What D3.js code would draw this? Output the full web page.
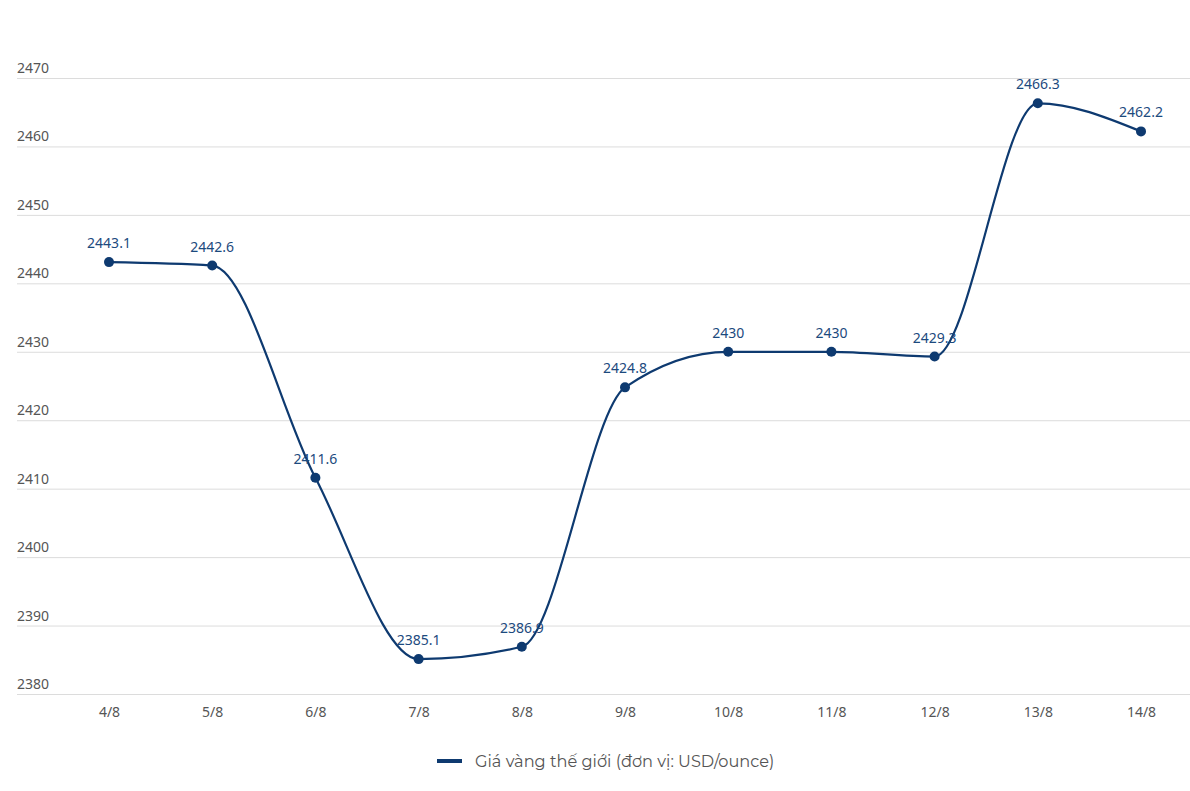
<!DOCTYPE html>
<html><head><meta charset="utf-8">
<script src="https://cdn.jsdelivr.net/npm/d3@7"></script>
<style>body{margin:0;background:#fff}svg{display:block}</style>
</head><body>
<svg id="c" width="1190" height="791"></svg>
<script>
const categories = ["4/8","5/8","6/8","7/8","8/8","9/8","10/8","11/8","12/8","13/8","14/8"];
const values = [2443.1,2442.6,2411.6,2385.1,2386.9,2424.8,2430,2430,2429.3,2466.3,2462.2];
const yTicks = [2380,2390,2400,2410,2420,2430,2440,2450,2460,2470];
const seriesName = "Giá vàng thế giới (đơn vị: USD/ounce)";

const svg = d3.select("#c");
const color = "#0e3a70";
const x = d3.scalePoint().domain(categories).range([109,1141]);
const y = d3.scaleLinear().domain([2380,2470]).range([694,78]);

const g = svg.append("g");
g.selectAll("line.grid").data(yTicks).join("line")
  .attr("x1",17).attr("x2",1190)
  .attr("y1",d=>y(d)+0.5).attr("y2",d=>y(d)+0.5)
  .attr("stroke","#dcdcdc").attr("stroke-width",1);
g.selectAll("text.yl").data(yTicks).join("text")
  .attr("x",17).attr("y",d=>y(d)-5)
  .attr("font-family","'Noto Sans', sans-serif").attr("font-size",14)
  .attr("fill","#555").text(d=>d);

const xa = svg.append("g").attr("transform","translate(0,694)")
  .call(d3.axisBottom(x).tickSize(0).tickPadding(13));
xa.select(".domain").remove();
xa.selectAll("text").attr("font-family","'Noto Sans', sans-serif").attr("font-size",14).attr("fill","#555");

const data = categories.map((c,i)=>({c,v:values[i]}));
const line = d3.line().x(d=>x(d.c)).y(d=>y(d.v)).curve(d3.curveMonotoneX);
svg.append("path").datum(data).attr("d",line)
  .attr("fill","none").attr("stroke",color).attr("stroke-width",2.2);
svg.selectAll("circle.pt").data(data).join("circle")
  .attr("cx",d=>x(d.c)).attr("cy",d=>y(d.v)).attr("r",5).attr("fill",color);
svg.selectAll("text.lbl").data(data).join("text")
  .attr("x",d=>x(d.c)).attr("y",d=>y(d.v)-14)
  .attr("text-anchor","middle")
  .attr("font-family","'Noto Sans', sans-serif").attr("font-size",14)
  .attr("fill","#1c4a7e").text(d=>d.v);

const lg = svg.append("g");
lg.append("line").attr("x1",437).attr("x2",462).attr("y1",761).attr("y2",761)
  .attr("stroke",color).attr("stroke-width",4);
lg.append("text").attr("x",475).attr("y",767)
  .attr("font-family","'Montserrat','Noto Sans', sans-serif").attr("font-size",16.2)
  .attr("fill","#555").text(seriesName);
</script>
</body></html>
